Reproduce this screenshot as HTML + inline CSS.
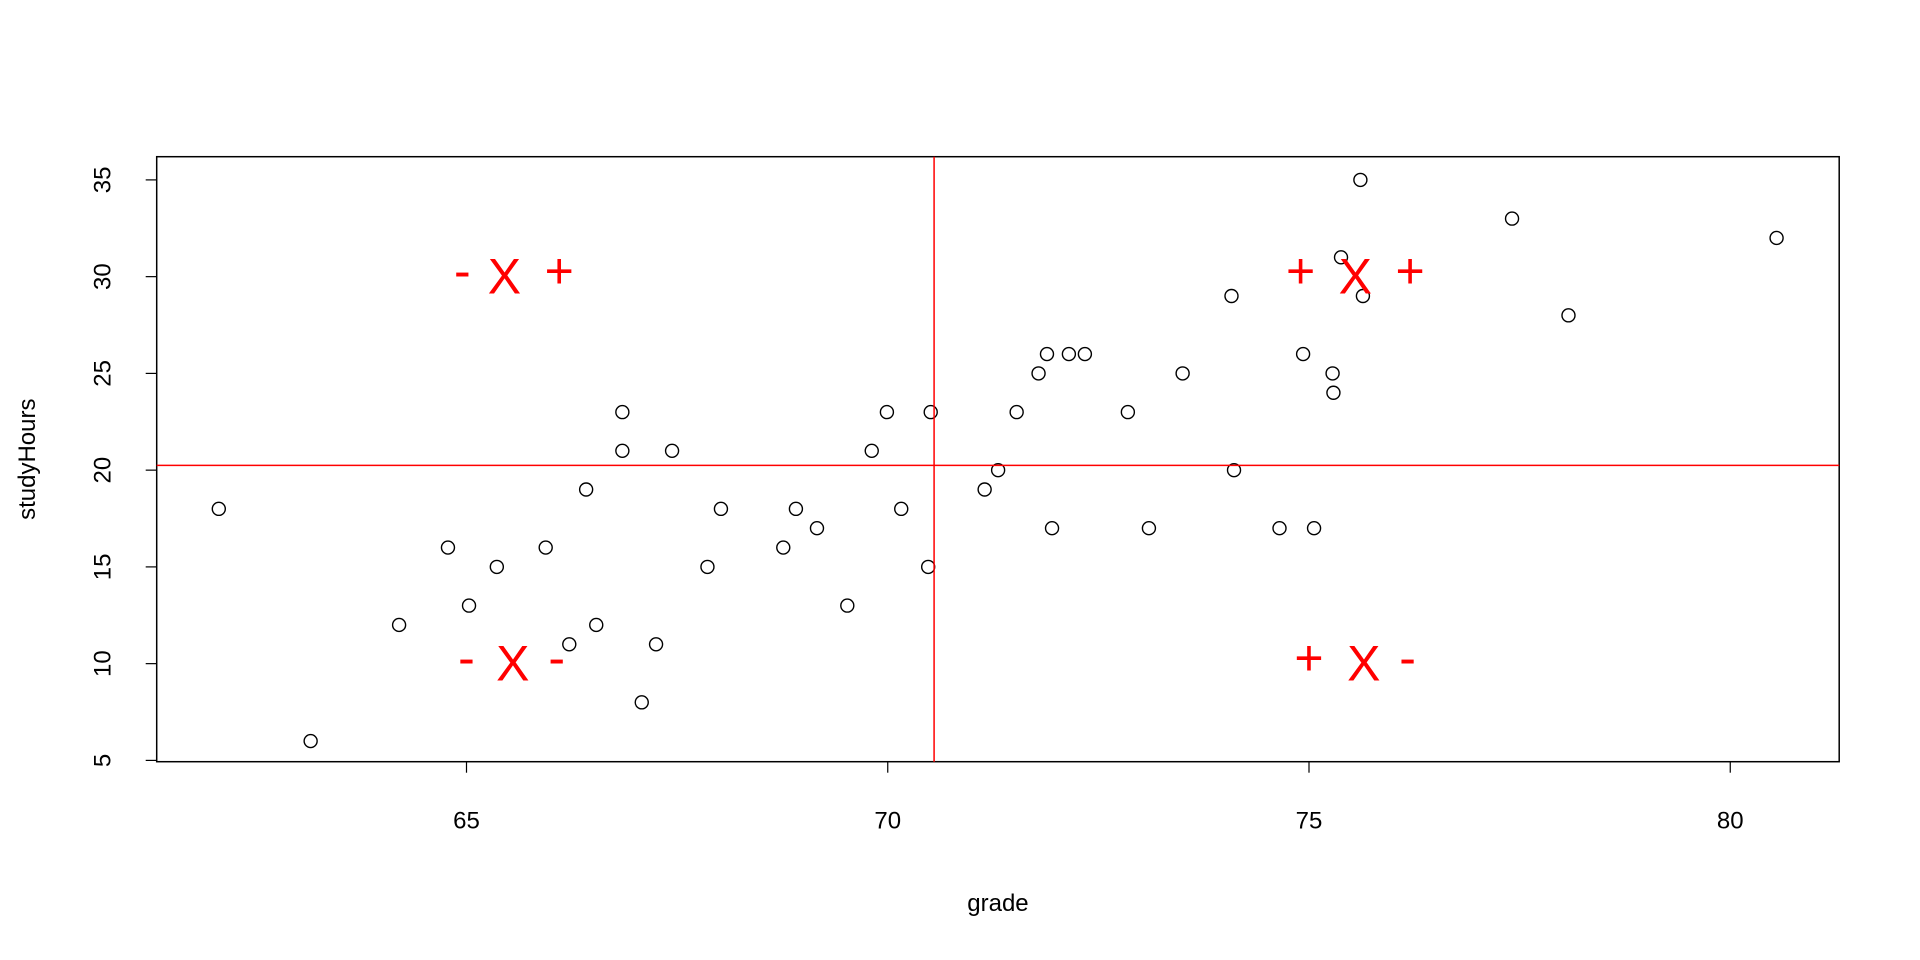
<!DOCTYPE html>
<html><head><meta charset="utf-8"><style>
html,body{margin:0;padding:0;background:#fff;}
svg{display:block;font-family:"Liberation Sans",Arial,sans-serif;}
</style></head><body>
<svg id="chart" width="1920" height="960" viewBox="0 0 1920 960" xmlns="http://www.w3.org/2000/svg"></svg>
<script>
const grades=[62.06,63.15,64.2,64.78,65.03,65.36,65.94,66.22,66.42,66.54,66.85,66.85,67.08,67.25,67.44,67.86,68.02,68.76,68.91,69.16,69.52,69.81,69.99,70.16,70.48,70.51,71.15,71.31,71.53,71.79,71.89,71.95,72.15,72.34,72.85,73.10,73.50,74.08,74.11,74.65,74.93,75.06,75.28,75.29,75.38,75.61,75.64,77.41,78.08,80.55];
const hours=[18,6,12,16,13,15,16,11,19,12,23,21,8,11,21,15,18,16,18,17,13,21,23,18,15,23,19,20,23,25,26,17,26,26,23,17,25,29,20,17,26,17,25,24,31,35,29,33,28,32];
const xTicks=[65,70,75,80];
const yTicks=[5,10,15,20,25,30,35];
const meanGrade=70.55;
const meanHours=20.25;
const quadLabels=[["-",64.95,30.3],["X",65.45,30.0],["+",66.1,30.3],["-",65.0,10.3],["X",65.55,10.0],["-",66.07,10.3],["+",74.9,30.3],["X",75.55,30.0],["+",76.2,30.3],["+",75.0,10.3],["X",75.65,10.0],["-",76.17,10.3]];

const NS="http://www.w3.org/2000/svg";
const svg=document.getElementById('chart');
const L=156.7,R=1839.2,T=156.7,B=761.7;
const X=v=>466.5+(v-65)*84.25;
const Y=v=>760.4-(v-5)*19.35;
function mk(tag,at,parent){const e=document.createElementNS(NS,tag);for(const k in at)e.setAttribute(k,at[k]);(parent||svg).appendChild(e);return e;}

let box=mk('rect',{x:L,y:T,width:R-L,height:B-T,fill:'none',stroke:'#000','stroke-width':1.5});



xTicks.forEach(t=>{
  let l=mk('line',{x1:X(t),x2:X(t),y1:B,y2:B+11,stroke:'#000','stroke-width':1.2});
  
  
  let tx=mk('text',{x:X(t),y:B+67,'font-size':24,'text-anchor':'middle'});
  tx.textContent=t;
  
  
});
yTicks.forEach(t=>{
  let l=mk('line',{x1:L,x2:L-11,y1:Y(t),y2:Y(t),stroke:'#000','stroke-width':1.2});
  
  
  let tx=mk('text',{x:0,y:0,'font-size':24,'text-anchor':'middle',transform:`translate(${L-46},${Y(t)}) rotate(-90)`});
  tx.textContent=t;
  
  
});
let xt=mk('text',{x:(L+R)/2,y:911,'font-size':24,'text-anchor':'middle'});
xt.textContent='grade';


let yt=mk('text',{x:0,y:0,'font-size':24,'text-anchor':'middle',transform:`translate(35,${(T+B)/2}) rotate(-90)`});
yt.textContent='studyHours';



grades.forEach((g,i)=>{
  let c=mk('circle',{cx:X(g),cy:Y(hours[i]),r:6.5,fill:'none',stroke:'#000','stroke-width':1.4});
  
  
});

let vl=mk('line',{x1:X(meanGrade),x2:X(meanGrade),y1:T,y2:B,stroke:'#f00','stroke-width':1.5});


let hl=mk('line',{x1:L,x2:R,y1:Y(meanHours),y2:Y(meanHours),stroke:'#f00','stroke-width':1.5});



quadLabels.forEach(q=>{
  let t=mk('text',{x:X(q[1]),y:Y(q[2])+17,'font-size':50,fill:'#f00','text-anchor':'middle'});
  t.textContent=q[0];
  
  
});
</script>
</body></html>
